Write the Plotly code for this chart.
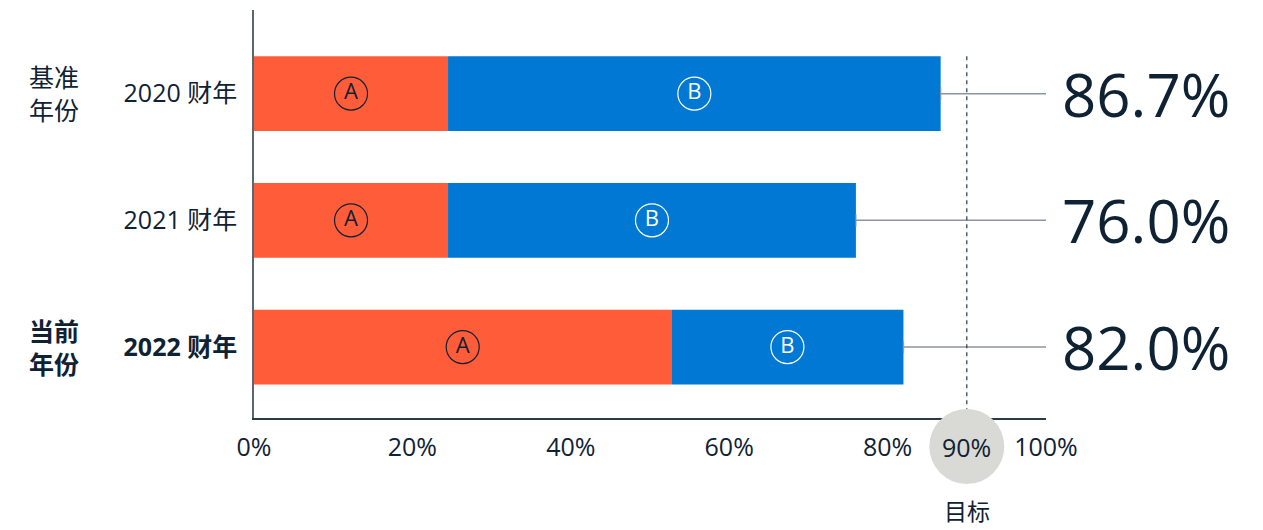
import plotly.graph_objects as go

# Data
years = ["2020 财年", "2021 财年", "2022 财年"]
year_ticktext = ["2020 财年", "2021 财年", "<b>2022 财年</b>"]
part_a = [24.5, 24.5, 52.7]
totals = [86.7, 76.0, 82.0]
part_b = [t - a for t, a in zip(totals, part_a)]
total_labels = ["86.7%", "76.0%", "82.0%"]
target = 90
x_ticks = [0, 20, 40, 60, 80, 100]
x_ticktext = ["0%", "20%", "40%", "60%", "80%", "100%"]

ORANGE = "#FF5C39"
BLUE = "#0078D4"
INK = "#0F2233"
GREY_LINE = "#8C959D"
FONT = "Open Sans, Noto Sans CJK SC, sans-serif"

ypos = list(range(len(years)))
bar_w = 0.59
y_range = [2.56, -0.66]

fig = go.Figure()

fig.add_trace(go.Bar(y=ypos, x=part_a, orientation="h", width=bar_w,
                     marker=dict(color=ORANGE, line=dict(width=0)),
                     hoverinfo="skip", showlegend=False))
fig.add_trace(go.Bar(y=ypos, x=part_b, base=part_a, orientation="h", width=bar_w,
                     marker=dict(color=BLUE, line=dict(width=0)),
                     hoverinfo="skip", showlegend=False))

# Circled segment markers
fig.add_trace(go.Scatter(
    x=[a / 2 for a in part_a], y=ypos, mode="markers+text", text=["A"] * 3,
    textposition="middle center", textfont=dict(family=FONT, size=22, color=INK),
    marker=dict(symbol="circle-open", size=33, color=INK, line=dict(width=1.2, color=INK)),
    hoverinfo="skip", showlegend=False, cliponaxis=False))
fig.add_trace(go.Scatter(
    x=[a + b / 2 for a, b in zip(part_a, part_b)], y=ypos, mode="markers+text", text=["B"] * 3,
    textposition="middle center", textfont=dict(family=FONT, size=22, color="white"),
    marker=dict(symbol="circle-open", size=33, color="white", line=dict(width=1.2, color="white")),
    hoverinfo="skip", showlegend=False, cliponaxis=False))

# Leader lines from each bar end to the right edge
for i, t in enumerate(totals):
    fig.add_trace(go.Scatter(
        x=[t, 100], y=[i, i], mode="lines+markers",
        line=dict(color=GREY_LINE, width=1.5),
        marker=dict(symbol=["line-ns", "line-ns"], size=[9, 0],
                    line=dict(color=GREY_LINE, width=1.5)),
        hoverinfo="skip", showlegend=False, cliponaxis=False))

# Target line
fig.add_shape(type="line", xref="x", yref="y", x0=target, x1=target,
              y0=-bar_w / 2, y1=y_range[0],
              line=dict(color="#2B3A46", width=1.2, dash="4px,4px"), layer="above")

# Target badge behind the 90% label
fig.add_shape(type="circle", xref="x", yref="paper", xsizemode="pixel", ysizemode="pixel",
              xanchor=target, yanchor=0, x0=-37.5, x1=37.5, y0=-66, y1=9,
              fillcolor="#D9D9D6", line=dict(width=0), layer="above")

annotations = []
for i, lab in enumerate(total_labels):
    annotations.append(dict(x=1.018, y=i, xref="paper", yref="y", text=lab, showarrow=False,
                            xanchor="left", yanchor="middle",
                            font=dict(family=FONT, size=60, color=INK)))
annotations.append(dict(x=target, y=-0.071, xref="x", yref="paper", text=f"{target}%",
                        showarrow=False, xanchor="center", yanchor="middle",
                        font=dict(family=FONT, size=25, color=INK)))
annotations.append(dict(x=target, y=-0.228, xref="x", yref="paper", text="目标",
                        showarrow=False, xanchor="center", yanchor="middle",
                        font=dict(family=FONT, size=23, color=INK)))
annotations.append(dict(x=-0.2525, y=0, xref="paper", yref="y", text="基准<br>年份",
                        showarrow=False, xanchor="center", yanchor="middle",
                        font=dict(family=FONT, size=25, color=INK)))
annotations.append(dict(x=-0.2525, y=2, xref="paper", yref="y", text="<b>当前<br>年份</b>",
                        showarrow=False, xanchor="center", yanchor="middle",
                        font=dict(family=FONT, size=25, color=INK)))

fig.update_layout(
    width=1263, height=530,
    margin=dict(l=254, r=217, t=10, b=112),
    paper_bgcolor="white", plot_bgcolor="white",
    barmode="overlay", showlegend=False,
    font=dict(family=FONT, color=INK),
    annotations=annotations,
    xaxis=dict(range=[0, 100], tickvals=x_ticks, ticktext=x_ticktext, showgrid=False,
               zeroline=False, showline=True, linecolor="#2B3A46", linewidth=1.5,
               ticks="", ticklabelstandoff=6, tickfont=dict(family=FONT, size=25, color=INK),
               fixedrange=True),
    yaxis=dict(range=y_range, tickvals=ypos, ticktext=year_ticktext, showgrid=False,
               zeroline=False, showline=True, linecolor="#5A6670", linewidth=1.5,
               ticks="", ticklabelstandoff=10, tickfont=dict(family=FONT, size=25, color=INK),
               fixedrange=True),
)

fig.write_html("out.html")
